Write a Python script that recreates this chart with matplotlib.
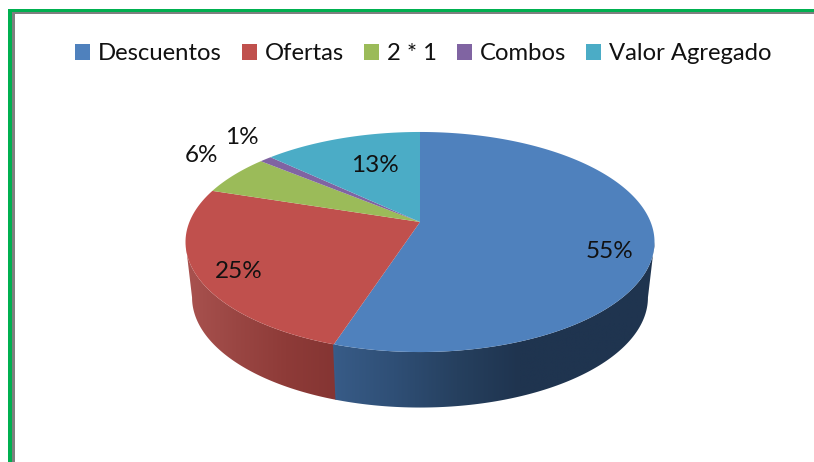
import numpy as np
import matplotlib
matplotlib.use("Agg")
import matplotlib.pyplot as plt
from matplotlib.colors import LinearSegmentedColormap
from matplotlib.patches import Polygon, Rectangle
from matplotlib.path import Path
from matplotlib.transforms import Transform

categories = ["Descuentos", "Ofertas", "2 * 1", "Combos", "Valor Agregado"]
values = [55, 25, 6, 1, 13]
colors = ["#4F81BD", "#C0504D", "#9BBB59", "#8064A2", "#4BACC6"]
label_pos = [(610, 252), (239, 271), (202, 156), (242, 137), (375, 165)]

# perspective of the tilted disc, in pixel units
CX, CY, A, B, K = 420.0, 222.0, 230.6, 106.4, 0.1818
DEPTH, NARROW = 55.5, 0.972
FONT = "Lato"
plt.rcParams["font.family"] = [FONT, "DejaVu Sans"]


def project(xy):
    xy = np.asarray(xy, float)
    d = 1 + K * xy[:, 1]
    return np.column_stack([CX + A * xy[:, 0] / d, CY - B * xy[:, 1] / d])


class Tilt(Transform):
    input_dims = output_dims = 2
    is_affine = False
    has_inverse = False

    def transform_non_affine(self, values):
        return project(values)

    def transform_path_non_affine(self, path):
        t = np.linspace(0, 1, 30)
        pts = [np.atleast_2d(seg(t)) for seg, _ in path.iter_bezier()]
        return Path(project(np.vstack(pts)), closed=True)


fig = plt.figure(figsize=(8.14, 4.62), dpi=100, facecolor="white")
ax = fig.add_axes([0, 0, 1, 1])
wedges, _ = ax.pie(values, colors=colors, startangle=90, counterclock=False,
                   radius=1, wedgeprops={"linewidth": 0})
ax.set_aspect("auto")
tilt = Tilt()
for w in wedges:
    w.set_transform(tilt + ax.transData)
    w.set_zorder(5)

# visible rim of the disc: between the two tips of the ellipse
tip = np.degrees(np.arccos(-K))          # clockwise from the top
side_styles = {
    0: (["#385C88", "#2F4F76", "#26405F", "#1F344F"], (330, 520), (330, 660)),
    1: (["#A9524F", "#9A4643", "#8E3B38", "#853533"], (186, 336), (186, 345)),
}
for i, (stops, span, ext) in side_styles.items():
    w = wedges[i]
    t1, t2 = 90 - w.theta2, 90 - w.theta1
    t1 = max(t1, tip)
    t2 = min(t2, 360 - tip)
    th = np.radians(np.linspace(t1, t2, 120))
    top = project(np.column_stack([np.sin(th), np.cos(th)]))
    bot = top.copy()
    bot[:, 0] = CX + (bot[:, 0] - CX) * NARROW
    bot[:, 1] += DEPTH
    # keep the shared seam closed: rim parts overlap by a pixel
    poly = Polygon(np.vstack([top, bot[::-1]]), closed=True, transform=ax.transData,
                   facecolor="none", edgecolor="none")
    ax.add_patch(poly)
    cmap = LinearSegmentedColormap.from_list(f"side{i}", stops)
    grad = np.clip((np.linspace(ext[0], ext[1], 256) - span[0]) / (span[1] - span[0]), 0, 1)[None, :]
    im = ax.imshow(grad, cmap=cmap, extent=(ext[0], ext[1], 420, 230), aspect="auto",
                   zorder=2, vmin=0, vmax=1)
    im.set_clip_path(poly)
    # fill the hairline along the seam
    if i == 0:
        seam_x = [top[-1, 0], bot[-1, 0]]
        seam_y = [top[-1, 1], bot[-1, 1]]
        ax.plot(seam_x, seam_y, color="#385C88", lw=1.2, zorder=3, solid_capstyle="butt")

for v, (x, y) in zip(values, label_pos):
    ax.text(x, y, f"{v}%", fontsize=17.5, color="#111111", ha="center", va="center", zorder=8)

# sheet border
ax.add_patch(Rectangle((12, 12), 802, 2, facecolor="#7F7F7F", edgecolor="none", zorder=1))
ax.add_patch(Rectangle((12, 12), 3, 450, facecolor="#7F7F7F", edgecolor="none", zorder=1))
ax.add_patch(Rectangle((8, 9), 806, 3, facecolor="#00B050", edgecolor="none", zorder=1))
ax.add_patch(Rectangle((8, 9), 4, 453, facecolor="#00B050", edgecolor="none", zorder=1))

ax.set_xlim(0, 814)
ax.set_ylim(462, 0)
ax.axis("off")

leg = ax.legend(wedges, categories, ncol=5, frameon=False, fontsize=17.2,
                loc="center", bbox_to_anchor=(423.5, 54), bbox_transform=ax.transData,
                handlelength=0.63, handleheight=0.63, handletextpad=0.33,
                columnspacing=0.84, borderpad=0, borderaxespad=0, labelcolor="#111111")
leg.set_zorder(9)

fig.savefig("out.png", dpi=100)
